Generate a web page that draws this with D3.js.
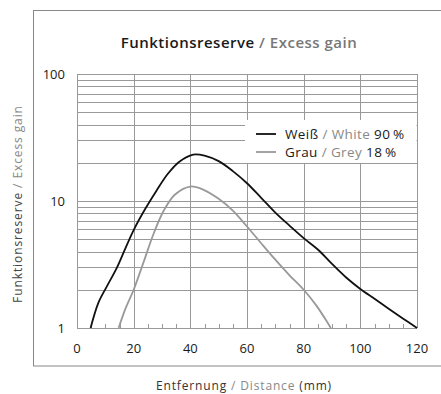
<!DOCTYPE html>
<html><head><meta charset="utf-8">
<script src="https://cdn.jsdelivr.net/npm/d3@7"></script>
<style>
html,body{margin:0;padding:0;background:#fff;}
svg{display:block;font-family:"Open Sans",sans-serif;}
</style></head>
<body>
<svg id="c" width="441" height="394"></svg>
<script>
const xTicks = [0, 20, 40, 60, 80, 100, 120];
const yTicks = [1, 10, 100];
const whiteDist = [4.8, 7.5, 10.5, 14, 17, 20, 24, 28, 32, 36, 41, 45, 50, 55, 60, 65, 70, 75, 80, 85, 90, 95, 100, 105, 110, 115, 120];
const whiteGain = [1, 1.57, 2.12, 2.96, 4.2, 5.9, 8.6, 12, 16.3, 20.3, 23.2, 22.8, 20.6, 17.2, 13.8, 10.6, 8.1, 6.4, 5.1, 4.15, 3.2, 2.5, 2.03, 1.7, 1.42, 1.19, 1];
const greyDist = [14.7, 17, 20, 23.5, 27, 30.5, 34.5, 40, 44.5, 50, 55, 60, 65, 70, 75, 80, 84.5, 89.6];
const greyGain = [1, 1.4, 2.0, 3.3, 5.5, 8.3, 11.2, 13, 12.3, 10.4, 8.4, 6.3, 4.65, 3.45, 2.6, 2.0, 1.5, 1];
const seriesNames = [["Weiß", " / White", " 90\u2009%"], ["Grau", " / Grey", " 18\u2009%"]];
const seriesColors = ["#111", "#999"];

const svg = d3.select("#c");
const L = 77, R = 417, T = 74, B = 328;
const x = d3.scaleLinear().domain([0, 120]).range([L, R]);
const y = d3.scaleLog().domain([1, 100]).range([B, T]);

// outer frame
svg.append("rect").attr("x", 33.5).attr("y", 10.5).attr("width", 440).attr("height", 355.5)
  .attr("fill", "none").attr("stroke", "#888").attr("stroke-width", 1);

// title
const title = svg.append("text").attr("x", 239).attr("y", 48).attr("text-anchor", "middle")
  .attr("font-size", 15).attr("letter-spacing", 0.5).attr("font-weight", 600);
title.append("tspan").attr("fill", "#1a1a1a").text("Funktionsreserve");
title.append("tspan").attr("fill", "#777").text(" / Excess gain");

const g = svg.append("g");
const hVals = [];
[1, 10].forEach(d => { for (let k = 1; k <= 9; k++) hVals.push(d * k); });
hVals.push(100);
g.selectAll("line.h").data(hVals).enter().append("line")
  .attr("x1", L).attr("x2", R)
  .attr("y1", d => Math.round(y(d)) + 0.5).attr("y2", d => Math.round(y(d)) + 0.5)
  .attr("stroke", "#999").attr("stroke-width", 1);
g.selectAll("line.v").data(xTicks).enter().append("line")
  .attr("x1", d => Math.round(x(d)) + 0.5).attr("x2", d => Math.round(x(d)) + 0.5)
  .attr("y1", T).attr("y2", B)
  .attr("stroke", "#999").attr("stroke-width", 1);
const minor = d3.range(5, 120, 5).filter(v => v % 20 !== 0);
g.selectAll("line.m").data(minor).enter().append("line")
  .attr("x1", d => Math.round(x(d)) + 0.5).attr("x2", d => Math.round(x(d)) + 0.5)
  .attr("y1", B - 4).attr("y2", B)
  .attr("stroke", "#999").attr("stroke-width", 1);

// legend background
svg.append("rect").attr("x", 245).attr("y", 120).attr("width", 171.5).attr("height", 43).attr("fill", "#fff");

// curves
const line = d3.line().x(d => x(d[0])).y(d => y(d[1])).curve(d3.curveCatmullRom.alpha(0.5));
const wData = whiteDist.map((d, i) => [d, whiteGain[i]]);
const gData = greyDist.map((d, i) => [d, greyGain[i]]);
svg.append("path").attr("d", line(gData)).attr("fill", "none").attr("stroke", seriesColors[1]).attr("stroke-width", 1.8);
svg.append("path").attr("d", line(wData)).attr("fill", "none").attr("stroke", seriesColors[0]).attr("stroke-width", 1.8);

// legend
seriesNames.forEach((n, i) => {
  const yy = 134 + i * 18;
  svg.append("line").attr("x1", 256).attr("x2", 276).attr("y1", yy).attr("y2", yy)
    .attr("stroke", seriesColors[i]).attr("stroke-width", 1.8);
  const t = svg.append("text").attr("x", 285).attr("y", yy + 4.7).attr("font-size", 13.5).attr("letter-spacing", 0.4);
  t.append("tspan").attr("fill", "#1a1a1a").text(n[0]);
  t.append("tspan").attr("fill", "#888").text(n[1]);
  t.append("tspan").attr("fill", "#1a1a1a").text(n[2]);
});

// tick labels
svg.selectAll("text.yt").data(yTicks).enter().append("text")
  .attr("x", 65).attr("y", d => y(d) + 4.5).attr("text-anchor", "end")
  .attr("font-size", 13).attr("fill", "#1a1a1a").text(d => d);
svg.selectAll("text.xt").data(xTicks).enter().append("text")
  .attr("x", d => x(d)).attr("y", 353).attr("text-anchor", "middle")
  .attr("font-size", 13).attr("fill", "#1a1a1a").text(d => d);

// axis titles
const xl = svg.append("text").attr("x", 244).attr("y", 390).attr("text-anchor", "middle")
  .attr("font-size", 12).attr("letter-spacing", 0.85);
xl.append("tspan").attr("fill", "#333").text("Entfernung");
xl.append("tspan").attr("fill", "#888").text(" / Distance");
xl.append("tspan").attr("fill", "#333").text(" (mm)");

const yl = svg.append("text").attr("transform", "translate(22,204) rotate(-90)").attr("text-anchor", "middle")
  .attr("font-size", 12).attr("letter-spacing", 0.9);
yl.append("tspan").attr("fill", "#444").text("Funktionsreserve");
yl.append("tspan").attr("fill", "#888").text(" / Excess gain");
</script>
</body></html>
